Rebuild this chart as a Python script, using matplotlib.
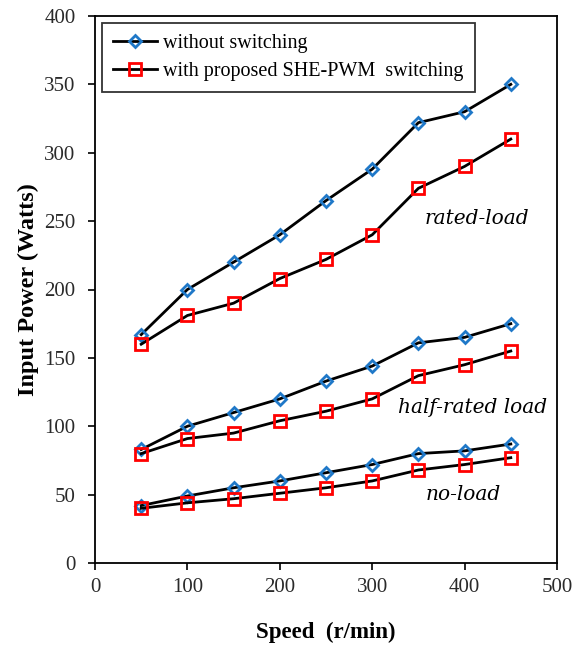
import matplotlib
matplotlib.use("Agg")
import matplotlib.pyplot as plt

speed = [50, 100, 150, 200, 250, 300, 350, 400, 450]

rated_without = [167, 200, 220, 240, 265, 288, 322, 330, 350]
rated_with = [160, 181, 190, 208, 222, 240, 274, 290, 310]
half_without = [83, 100, 110, 120, 133, 144, 161, 165, 175]
half_with = [80, 91, 95, 104, 111, 120, 137, 145, 155]
noload_without = [42, 49, 55, 60, 66, 72, 80, 82, 87]
noload_with = [40, 44, 47, 51, 55, 60, 68, 72, 77]

x_ticks = [0, 100, 200, 300, 400, 500]
y_ticks = [0, 50, 100, 150, 200, 250, 300, 350, 400]

plt.rcParams["font.family"] = ["Liberation Serif", "DejaVu Serif"]

fig = plt.figure(figsize=(5.81, 6.45), dpi=100)
ax = fig.add_axes([95 / 581, 1 - 563 / 645, (557 - 95) / 581, (563 - 16) / 645])

blue = "#1F78C8"
red = "#FF0000"
diamond = dict(color="black", lw=2.0, marker="D", markersize=6.5,
               markerfacecolor="none", markeredgecolor=blue, markeredgewidth=2.0)
square = dict(color="black", lw=2.0, marker="s", markersize=8,
              markerfacecolor="none", markeredgecolor=red, markeredgewidth=2.0)

l1, = ax.plot(speed, rated_without, **diamond)
l2, = ax.plot(speed, rated_with, **square)
ax.plot(speed, half_without, **diamond)
ax.plot(speed, half_with, **square)
ax.plot(speed, noload_without, **diamond)
ax.plot(speed, noload_with, **square)

ax.set_xlim(0, 500)
ax.set_ylim(0, 400)
ax.set_xticks(x_ticks)
ax.set_yticks(y_ticks)
ax.tick_params(direction="out", length=5, width=1.2, labelsize=15,
               labelcolor="#2a2a2a")
ax.tick_params(axis="y", pad=9)
ax.tick_params(axis="x", pad=6)
for s in ax.spines.values():
    s.set_linewidth(1.3)

ax.set_xlabel("Speed  (r/min)", fontsize=16.5, fontweight="bold", labelpad=18)
ax.set_ylabel("Input Power (Watts)", fontsize=17.5, fontweight="bold", labelpad=4)

note = dict(fontsize=14.5, style="italic", ha="center", va="center",
            family=["DejaVu Serif"])
ax.text(413, 252, "rated-load", **note)
ax.text(409, 114, "half-rated load", **note)
ax.text(398, 50, "no-load", **note)

leg = ax.legend([l1, l2], ["without switching", "with proposed SHE-PWM  switching"],
                loc="upper left", fontsize=14.5, frameon=True, fancybox=False,
                edgecolor="black", handlelength=2.2, borderaxespad=0.0,
                labelspacing=0.45, handletextpad=0.3, borderpad=0.55,
                bbox_to_anchor=(7 / 462, 1 - 7 / 547))
leg.get_frame().set_linewidth(1.3)

fig.savefig("out.png", dpi=100)
